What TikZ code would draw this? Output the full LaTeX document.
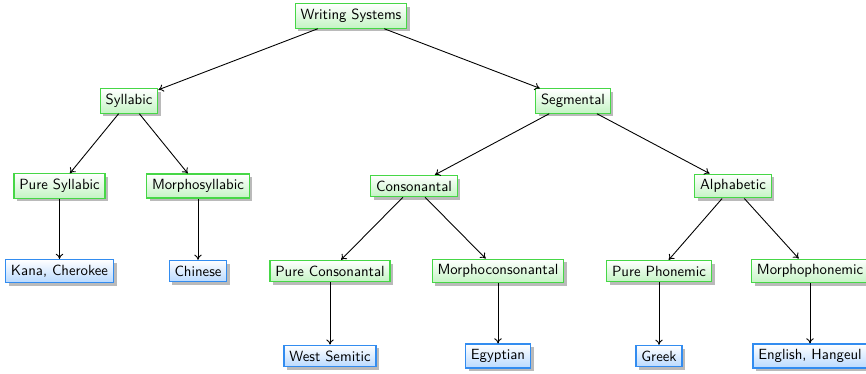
\documentclass[tikz,border=0pt]{standalone}
\usetikzlibrary{shadows,arrows.meta}
\definecolor{gborder}{RGB}{70,215,70}
\definecolor{gfill}{RGB}{196,244,196}
\definecolor{bborder}{RGB}{50,140,240}
\definecolor{bfill}{RGB}{186,218,255}
\begin{document}
\begin{tikzpicture}[x=0.6775pt,y=0.6775pt,
  font=\sffamily,
  cat/.style={draw=gborder,thick,top color=white,bottom color=gfill,drop shadow={fill=black!45,opacity=0.6},inner sep=3.6pt},
  leaf/.style={draw=bborder,thick,top color=white,bottom color=bfill,drop shadow={fill=black!45,opacity=0.6},inner sep=3.6pt},
  link/.style={-{To[length=3.5pt,width=5pt]},semithick}]
\useasboundingbox (0,0) rectangle (866,-373);
\node[cat] (ws) at (351,-16) {Writing Systems};
\node[cat] (sy) at (129,-101) {Syllabic};
\node[cat] (se) at (573,-101) {Segmental};
\node[cat] (ps) at (59.5,-186) {Pure Syllabic};
\node[cat] (ms) at (198,-186) {Morphosyllabic};
\node[cat] (co) at (414,-186) {Consonantal};
\node[cat] (al) at (733,-186) {Alphabetic};
\node[leaf] (kc) at (59.5,-271) {Kana, Cherokee};
\node[leaf] (ch) at (198,-271) {Chinese};
\node[cat] (pc) at (330,-271) {Pure Consonantal};
\node[cat] (mc) at (498,-271) {Morphoconsonantal};
\node[cat] (pp) at (659,-271) {Pure Phonemic};
\node[cat] (mp) at (810,-271) {Morphophonemic};
\node[leaf] (wsm) at (330,-356) {West Semitic};
\node[leaf] (eg) at (498,-356) {Egyptian};
\node[leaf] (gr) at (659,-356) {Greek};
\node[leaf] (eh) at (810,-356) {English, Hangeul};
\draw[link] (ws) -- (sy);
\draw[link] (ws) -- (se);
\draw[link] (sy) -- (ps);
\draw[link] (sy) -- (ms);
\draw[link] (se) -- (co);
\draw[link] (se) -- (al);
\draw[link] (ps) -- (kc);
\draw[link] (ms) -- (ch);
\draw[link] (co) -- (pc);
\draw[link] (co) -- (mc);
\draw[link] (al) -- (pp);
\draw[link] (al) -- (mp);
\draw[link] (pc) -- (wsm);
\draw[link] (mc) -- (eg);
\draw[link] (pp) -- (gr);
\draw[link] (mp) -- (eh);
\end{tikzpicture}
\end{document}
